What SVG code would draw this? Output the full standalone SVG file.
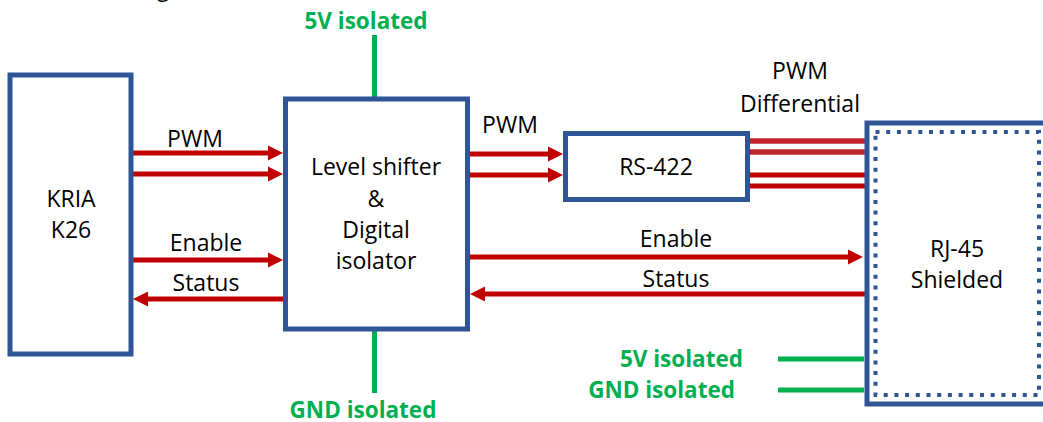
<svg xmlns="http://www.w3.org/2000/svg" width="1043" height="422" viewBox="0 0 1043 422">
<style>
.box{fill:#fff;stroke:#2F5597;stroke-width:5}
.dot{fill:none;stroke:#2F5597;stroke-width:4;stroke-dasharray:4 6.7}
.t{font-family:"Open Sans","Noto Sans",sans-serif;font-size:23px;fill:#000;text-anchor:middle}
.g{font-family:"Open Sans","Noto Sans",sans-serif;font-size:22.5px;font-weight:bold;fill:#00B050;text-anchor:middle}
.ge{text-anchor:end}
.sig{stroke:#C00000;stroke-width:5;fill:none}
.sigA{stroke:#C00000;stroke-width:5;fill:none;marker-end:url(#ah)}
.diff1{stroke:#C0262C;stroke-width:5.5}
.pwr{stroke:#00B050;stroke-width:5}
</style>
<defs>
<marker id="ah" markerUnits="userSpaceOnUse" markerWidth="16" markerHeight="16" viewBox="0 0 16 16" refX="0" refY="8" orient="auto">
<path d="M0,0.5 L15,8 L0,15.5 z" fill="#C00000"/>
</marker>
</defs>
<rect width="1043" height="422" fill="#fff"/>
<text class="t" x="163" y="-4">g</text>

<g id="connectors">
<line class="pwr" x1="374.5" y1="35" x2="374.5" y2="97"/>
<line class="pwr" x1="374.5" y1="331" x2="374.5" y2="393"/>
<line class="pwr" x1="778" y1="359" x2="864" y2="359"/>
<line class="pwr" x1="778" y1="390" x2="864" y2="390"/>
<line class="sigA" x1="133" y1="153" x2="268" y2="153"/>
<line class="sigA" x1="133" y1="174" x2="268" y2="174"/>
<line class="sigA" x1="133" y1="260" x2="268" y2="260"/>
<line class="sigA" x1="284" y1="299" x2="148" y2="299"/>
<line class="sigA" x1="470" y1="154" x2="548" y2="154"/>
<line class="sigA" x1="470" y1="175" x2="548" y2="175"/>
<line class="sigA" x1="470" y1="257" x2="848" y2="257"/>
<line class="sigA" x1="865" y1="294" x2="485" y2="294"/>
<line class="diff1" x1="750" y1="141" x2="865" y2="141"/>
<line class="diff1" x1="750" y1="152" x2="865" y2="152"/>
<line class="sig" x1="750" y1="175" x2="865" y2="175"/>
<line class="sig" x1="750" y1="186" x2="865" y2="186"/>
</g>

<g id="kria">
<rect class="box" x="10" y="75" width="121" height="279"/>
<text class="t" x="71" y="207">KRIA</text>
<text class="t" x="71" y="238">K26</text>
</g>

<g id="level-shifter">
<rect class="box" x="285.5" y="99" width="182" height="230"/>
<text class="t" x="376" y="175">Level shifter</text>
<text class="t" x="376" y="207">&amp;</text>
<text class="t" x="376" y="238">Digital</text>
<text class="t" x="376" y="269">isolator</text>
</g>

<g id="rs422">
<rect class="box" x="565.5" y="133.5" width="182" height="66"/>
<text class="t" x="656" y="175">RS-422</text>
</g>

<g id="rj45">
<rect class="box" x="867" y="123" width="190" height="281"/>
<rect class="dot" x="875.5" y="132" width="163.5" height="263"/>
<text class="t" x="957" y="257">RJ-45</text>
<text class="t" x="957" y="288">Shielded</text>
</g>

<g id="labels">
<text class="g" x="366" y="29">5V isolated</text>
<text class="g" x="363" y="418">GND isolated</text>
<text class="g ge" x="743" y="367">5V isolated</text>
<text class="g ge" x="735" y="398">GND isolated</text>
<text class="t" x="195" y="147">PWM</text>
<text class="t" x="206" y="251">Enable</text>
<text class="t" x="206" y="291">Status</text>
<text class="t" x="510" y="133">PWM</text>
<text class="t" x="800" y="79">PWM</text>
<text class="t" x="800" y="112">Differential</text>
<text class="t" x="676" y="247">Enable</text>
<text class="t" x="676" y="287">Status</text>
</g>
</svg>
